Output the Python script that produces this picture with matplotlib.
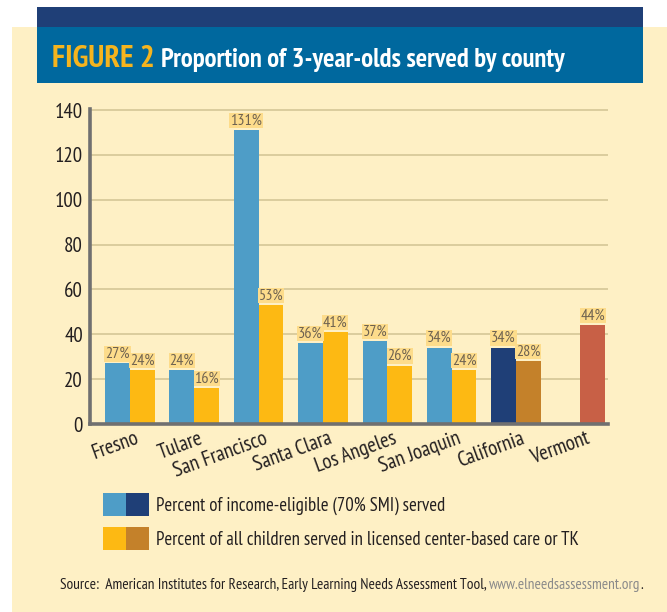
import matplotlib
matplotlib.use("Agg")
import matplotlib.pyplot as plt
import numpy as np
from matplotlib.patches import Rectangle, Patch
from matplotlib.legend_handler import HandlerTuple
from matplotlib.transforms import ScaledTranslation

# ---------------- data ----------------
categories = ["Fresno", "Tulare", "San Francisco", "Santa Clara", "Los Angeles",
              "San Joaquin", "California", "Vermont"]
income_eligible = [27, 24, 131, 36, 37, 34, 34, None]
all_children = [24, 16, 53, 41, 26, 24, 28, 44]
yticks = [0, 20, 40, 60, 80, 100, 120, 140]
legend_labels = ["Percent of income-eligible (70% SMI) served",
                 "Percent of all children served in licensed center-based care or TK"]
title_fig = "FIGURE 2"
title_text = "Proportion of 3-year-olds served by county"
source_main = "Source:  American Institutes for Research, Early Learning Needs Assessment Tool, "
source_url = "www.elneedsassessment.org"

# ---------------- style ----------------
FONT = ["PT Sans Narrow", "Fira Sans Condensed", "Roboto Condensed", "DejaVu Sans"]
plt.rcParams["font.family"] = FONT

C_PANEL = "#FEF0C5"
C_NAVY_BAND = "#1F3F77"
C_BLUE_BAND = "#00689E"
C_TITLE_Y = "#F5B41E"
C_LBLUE = "#4E9DC7"
C_ORANGE = "#FDB913"
C_NAVY = "#1F3F77"
C_BROWN = "#C4812A"
C_VERMONT = "#C86046"
C_GRID = "#D8CA9A"
C_SPINE = "#707070"
C_LBOX = "#FDDC8B"
C_LTEXT = "#6E6250"
C_TEXT = "#231F20"

blue_colors = [C_LBLUE] * 6 + [C_NAVY, C_NAVY]
orange_colors = [C_ORANGE] * 6 + [C_BROWN, C_VERMONT]

W, H = 667, 612
fig = plt.figure(figsize=(W / 100, H / 100), dpi=100)
fig.patch.set_facecolor("white")

def px_rect(x0, y0, x1, y1, color, z=-10):
    fig.patches.append(Rectangle((x0 / W, 1 - y1 / H), (x1 - x0) / W, (y1 - y0) / H,
                                 transform=fig.transFigure, facecolor=color,
                                 edgecolor="none", zorder=z))

px_rect(12, 27, 667, 612, C_PANEL, -10)
px_rect(37, 7, 643, 27, C_NAVY_BAND, -9)
px_rect(37, 27, 643, 83, C_BLUE_BAND, -9)

fig.text(52 / W, 1 - 67 / H, title_fig, color=C_TITLE_Y, fontsize=22.5,
         fontweight="bold", va="baseline", ha="left")
fig.text(161 / W, 1 - 67 / H, title_text, color="white", fontsize=19.2,
         fontweight="bold", va="baseline", ha="left")

# ---------------- axes ----------------
ax = fig.add_axes([90 / W, 1 - 424 / H, (608 - 90) / W, (424 - 109) / H])
ax.set_facecolor("none")
ax.set_zorder(5)

x = np.arange(len(categories))
bw = 0.385
blue_vals = np.array([np.nan if v is None else v for v in income_eligible], dtype=float)
orange_vals = np.array(all_children, dtype=float)

b1 = ax.bar(x - bw / 2, np.nan_to_num(blue_vals), bw, color=blue_colors, zorder=3)
b2 = ax.bar(x + bw / 2, orange_vals, bw, color=orange_colors, zorder=3)
for rect, v in zip(b1, blue_vals):
    if np.isnan(v):
        rect.set_visible(False)

def add_labels(bars, vals):
    for rect, v in zip(bars, vals):
        if np.isnan(v):
            continue
        ax.text(rect.get_x() + rect.get_width() / 2, v + 1.2, f"{int(v)}%",
                ha="center", va="bottom", fontsize=11.5, color=C_LTEXT, zorder=4,
                bbox=dict(boxstyle="square,pad=0.05", facecolor=C_LBOX, edgecolor="none"))

add_labels(b1, blue_vals)
add_labels(b2, orange_vals)

ax.set_xlim(-0.62, 7.43)
ax.set_ylim(0, 140.5)
ax.set_yticks(yticks)
ax.set_yticklabels([str(t) for t in yticks], fontsize=15, color=C_TEXT)
ax.tick_params(axis="y", length=0, pad=5)
ax.tick_params(axis="x", length=0, pad=2)
ax.yaxis.grid(True, color=C_GRID, linewidth=1.3, zorder=1)
ax.set_axisbelow(True)

ax.set_xticks(x)
ax.set_xticklabels(categories, rotation=20, ha="right", rotation_mode="anchor",
                   fontsize=15, color=C_TEXT)
offset = ScaledTranslation(5 / 100, -2 / 100, fig.dpi_scale_trans)
for lbl in ax.get_xticklabels():
    lbl.set_transform(lbl.get_transform() + offset)

for s in ["top", "right"]:
    ax.spines[s].set_visible(False)
for s in ["left", "bottom"]:
    ax.spines[s].set_color(C_SPINE)
    ax.spines[s].set_linewidth(2.6)
    ax.spines[s].set_zorder(5)

# ---------------- legend ----------------
handles = [(Patch(facecolor=C_LBLUE), Patch(facecolor=C_NAVY)),
           (Patch(facecolor=C_ORANGE), Patch(facecolor=C_BROWN))]
fig.legend(handles, legend_labels, handler_map={tuple: HandlerTuple(ndivide=None, pad=0)},
           loc="upper left", bbox_to_anchor=(103 / W, 1 - 493 / H), frameon=False,
           fontsize=13.5, handlelength=2.45, handleheight=1.525, handletextpad=0.4,
           labelspacing=0.59, borderpad=0, borderaxespad=0, labelcolor=C_TEXT)

# ---------------- source ----------------
t1 = fig.text(60 / W, 1 - 585 / H, source_main, fontsize=11, color=C_TEXT,
              va="center", ha="left")
fig.canvas.draw()
r = fig.canvas.get_renderer()
bb = t1.get_window_extent(r)
t2 = fig.text(bb.x1 / W, 1 - 585 / H, source_url, fontsize=11, color="#8A8A8A",
              va="center", ha="left")
bb2 = t2.get_window_extent(r)
fig.text(bb2.x1 / W, 1 - 585 / H, ".", fontsize=11, color=C_TEXT, va="center", ha="left")

fig.savefig("out.png", dpi=100)
